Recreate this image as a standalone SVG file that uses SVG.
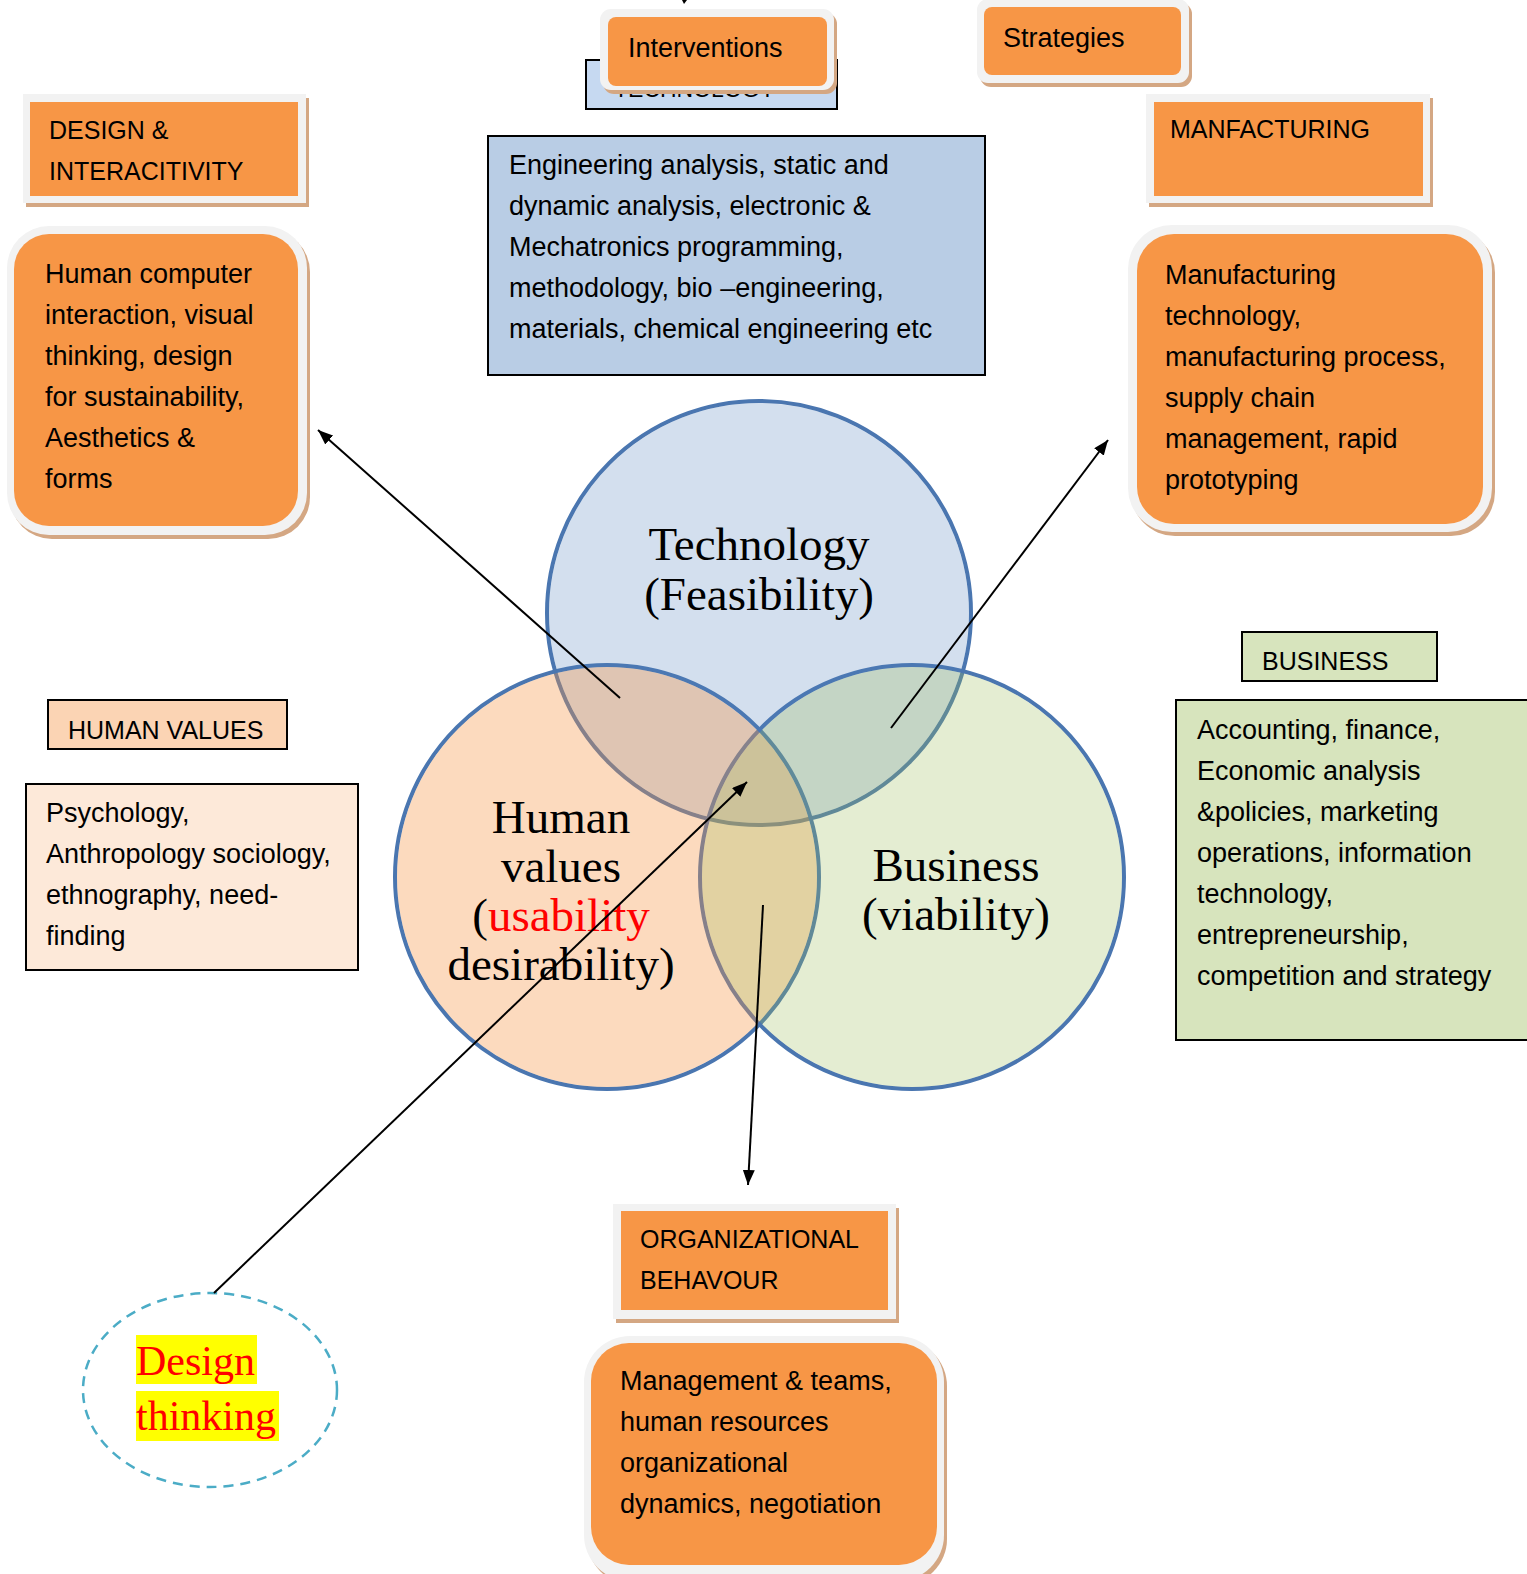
<svg xmlns="http://www.w3.org/2000/svg" width="1527" height="1574" viewBox="0 0 1527 1574">
<defs>
<marker id="ah" markerUnits="userSpaceOnUse" markerWidth="16" markerHeight="12" refX="15" refY="6" orient="auto"><path d="M0,0 L15,6 L0,12 z" fill="#000"/></marker>
</defs>
<style>
.t{font-family:"Liberation Sans",Arial,sans-serif;font-size:27px;fill:#000}
.c{font-family:"Liberation Sans",Arial,sans-serif;font-size:25px;fill:#000}
.s{font-family:"Liberation Serif","Times New Roman",serif;font-size:47px;fill:#000;text-anchor:middle}
.fr{fill:#f2f2f2}
.sh{fill:#d4a783}
.or{fill:#f79646}
.bx{stroke:#000;stroke-width:2}
.ring{fill:none;stroke:#4a76b0;stroke-width:4}
.conn line{stroke:#000;stroke-width:2;marker-end:url(#ah)}
</style>
<rect width="1527" height="1574" fill="#fff"/>

<g id="venn">
<circle class="ring" cx="759" cy="613" r="212"/>
<circle class="ring" cx="607" cy="877" r="212"/>
<circle class="ring" cx="912" cy="877" r="212"/>
<circle cx="759" cy="613" r="210" fill="#4f81bd" fill-opacity="0.25"/>
<circle cx="607" cy="877" r="210" fill="#f79646" fill-opacity="0.35"/>
<circle cx="912" cy="877" r="210" fill="#9bbb59" fill-opacity="0.27"/>
</g>

<g id="technology-circle-label">
<text class="s" x="759" y="560">Technology</text>
<text class="s" x="759" y="610">(Feasibility)</text>
</g>
<g id="human-circle-label">
<text class="s" x="561" y="833">Human</text>
<text class="s" x="561" y="882">values</text>
<text class="s" x="561" y="931">(<tspan fill="#ff0000">usability</tspan></text>
<text class="s" x="561" y="980">desirability)</text>
</g>
<g id="business-circle-label">
<text class="s" x="956" y="881">Business</text>
<text class="s" x="956" y="930">(viability)</text>
</g>

<g id="technology-label">
<rect x="586" y="60" width="251" height="49" fill="#c6d9f1" class="bx"/>
<text class="c" x="614" y="97" style="font-size:23px">TECHNOLOGY</text>
</g>

<g id="interventions">
<rect class="sh" x="603" y="13" width="234" height="81" rx="11"/>
<rect class="fr" x="600" y="9" width="234" height="81" rx="11"/>
<rect class="or" x="608" y="17" width="219" height="69" rx="8"/>
<text class="t" x="628" y="57">Interventions</text>
</g>

<g id="strategies">
<rect class="sh" x="980" y="3" width="212" height="84" rx="11"/>
<rect class="fr" x="977" y="-1" width="212" height="84" rx="11"/>
<rect class="or" x="984" y="7" width="197" height="68" rx="8"/>
<text class="t" x="1003" y="47">Strategies</text>
</g>

<g id="design-label">
<rect class="sh" x="26" y="98" width="283" height="109"/>
<rect class="fr" x="23" y="94" width="283" height="109"/>
<rect class="or" x="30" y="102" width="268" height="94"/>
<text class="c" x="49" y="139">DESIGN &amp;</text>
<text class="c" x="49" y="180">INTERACITIVITY</text>
</g>

<g id="design-desc">
<rect class="sh" x="10" y="230" width="300" height="309" rx="42"/>
<rect class="fr" x="7" y="226" width="300" height="309" rx="42"/>
<rect class="or" x="14" y="234" width="284" height="292" rx="35"/>
<text class="t" x="45" y="283">Human computer</text>
<text class="t" x="45" y="324">interaction, visual</text>
<text class="t" x="45" y="365">thinking, design</text>
<text class="t" x="45" y="406">for sustainability,</text>
<text class="t" x="45" y="447">Aesthetics &amp;</text>
<text class="t" x="45" y="488">forms</text>
</g>

<g id="technology-desc">
<rect x="488" y="136" width="497" height="239" fill="#b9cde5" class="bx"/>
<text class="t" x="509" y="174">Engineering analysis, static and</text>
<text class="t" x="509" y="215">dynamic analysis, electronic &amp;</text>
<text class="t" x="509" y="256">Mechatronics programming,</text>
<text class="t" x="509" y="297">methodology, bio –engineering,</text>
<text class="t" x="509" y="338">materials, chemical engineering etc</text>
</g>

<g id="manufacturing-label">
<rect class="sh" x="1149" y="98" width="284" height="109"/>
<rect class="fr" x="1146" y="94" width="284" height="109"/>
<rect class="or" x="1154" y="102" width="269" height="94"/>
<text class="c" x="1170" y="138">MANFACTURING</text>
</g>

<g id="manufacturing-desc">
<rect class="sh" x="1131" y="229" width="364" height="307" rx="44"/>
<rect class="fr" x="1128" y="225" width="364" height="307" rx="44"/>
<rect class="or" x="1137" y="234" width="346" height="290" rx="37"/>
<text class="t" x="1165" y="284">Manufacturing</text>
<text class="t" x="1165" y="325">technology,</text>
<text class="t" x="1165" y="366">manufacturing process,</text>
<text class="t" x="1165" y="407">supply chain</text>
<text class="t" x="1165" y="448">management, rapid</text>
<text class="t" x="1165" y="489">prototyping</text>
</g>

<g id="human-values-label">
<rect x="48" y="700" width="239" height="49" fill="#fbd4b4" class="bx"/>
<text class="c" x="68" y="739">HUMAN VALUES</text>
</g>

<g id="human-values-desc">
<rect x="26" y="784" width="332" height="186" fill="#fde9d9" class="bx"/>
<text class="t" x="46" y="822">Psychology,</text>
<text class="t" x="46" y="863">Anthropology sociology,</text>
<text class="t" x="46" y="904">ethnography, need-</text>
<text class="t" x="46" y="945">finding</text>
</g>

<g id="business-label">
<rect x="1242" y="632" width="195" height="49" fill="#d7e4bd" class="bx"/>
<text class="c" x="1262" y="670">BUSINESS</text>
</g>

<g id="business-desc">
<rect x="1176" y="700" width="364" height="340" fill="#d7e4bd" class="bx"/>
<text class="t" x="1197" y="739">Accounting, finance,</text>
<text class="t" x="1197" y="780">Economic analysis</text>
<text class="t" x="1197" y="821">&amp;policies, marketing</text>
<text class="t" x="1197" y="862">operations, information</text>
<text class="t" x="1197" y="903">technology,</text>
<text class="t" x="1197" y="944">entrepreneurship,</text>
<text class="t" x="1197" y="985">competition and strategy</text>
</g>

<g id="org-label">
<rect class="sh" x="616" y="1208" width="283" height="115"/>
<rect class="fr" x="613" y="1204" width="283" height="115"/>
<rect class="or" x="621" y="1211" width="267" height="99"/>
<text class="c" x="640" y="1248">ORGANIZATIONAL</text>
<text class="c" x="640" y="1289">BEHAVOUR</text>
</g>

<g id="org-desc">
<rect class="sh" x="587" y="1340" width="360" height="245" rx="46"/>
<rect class="fr" x="584" y="1336" width="360" height="245" rx="46"/>
<rect class="or" x="591" y="1343" width="346" height="222" rx="38"/>
<text class="t" x="620" y="1390">Management &amp; teams,</text>
<text class="t" x="620" y="1431">human resources</text>
<text class="t" x="620" y="1472">organizational</text>
<text class="t" x="620" y="1513">dynamics, negotiation</text>
</g>

<g id="design-thinking">
<ellipse cx="210" cy="1390" rx="127" ry="97" fill="none" stroke="#4bacc6" stroke-width="2.5" stroke-dasharray="10 7"/>
<rect x="136" y="1335" width="121" height="49" fill="#ffff00"/>
<rect x="136" y="1391" width="143" height="50" fill="#ffff00"/>
<text x="136" y="1375" style="font-family:'Liberation Serif','Times New Roman',serif;font-size:42px;fill:#ff0000">Design</text>
<text x="136" y="1430" style="font-family:'Liberation Serif','Times New Roman',serif;font-size:42px;fill:#ff0000">thinking</text>
</g>

<g id="connectors" class="conn">
<line x1="620" y1="698" x2="318" y2="430"/>
<line x1="891" y1="728" x2="1108" y2="440"/>
<line x1="214" y1="1293" x2="747" y2="782"/>
<line x1="763" y1="905" x2="748" y2="1185"/>
<path d="M682,0 L687,0 L684,4 z" fill="#000"/>
</g>
</svg>
